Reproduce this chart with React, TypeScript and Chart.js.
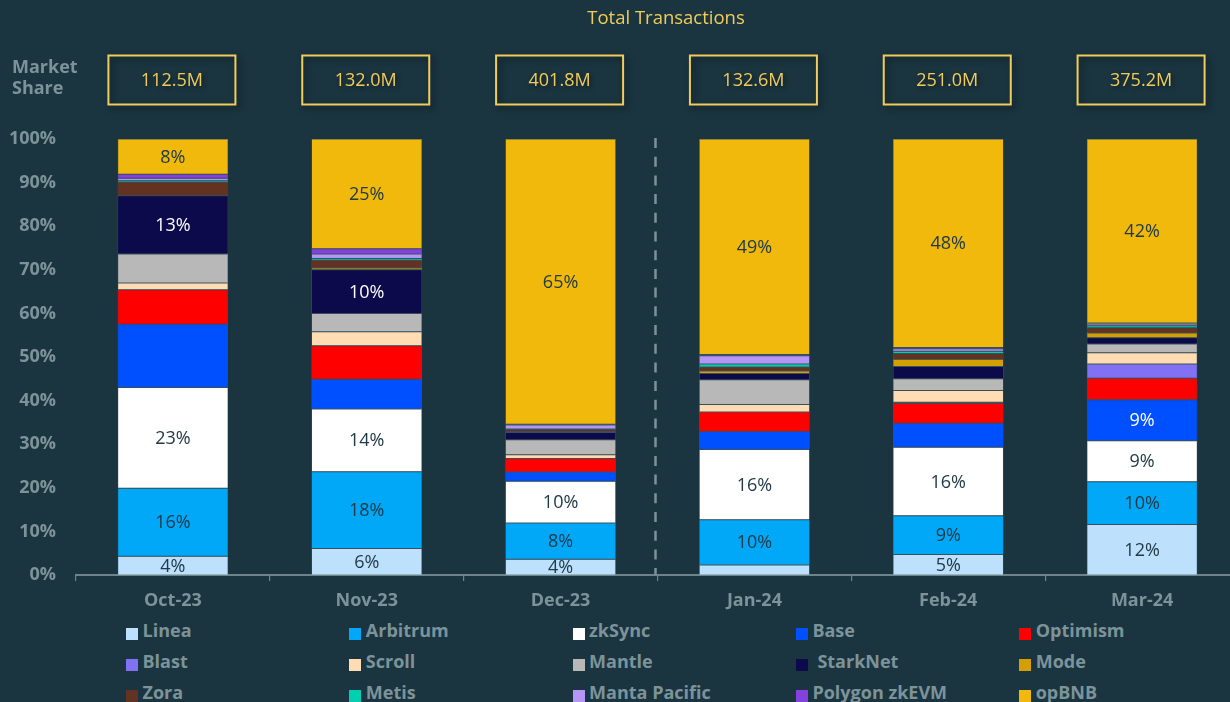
import React, { useEffect, useRef } from "react";
import { Chart, registerables } from "chart.js";

Chart.register(...registerables);

// ---------- data ----------
const months = ["Oct-23", "Nov-23", "Dec-23", "Jan-24", "Feb-24", "Mar-24"];
const totalTransactions = ["112.5M", "132.0M", "401.8M", "132.6M", "251.0M", "375.2M"];

const linea = [4.3, 6.1, 3.6, 2.3, 4.7, 11.6];
const arbitrum = [15.6, 17.6, 8.3, 10.4, 8.9, 9.8];
const zkSync = [23.1, 14.4, 9.6, 16.1, 15.7, 9.4];
const base = [14.5, 6.8, 2.1, 4.1, 5.5, 9.4];
const optimism = [7.9, 7.7, 3.1, 4.5, 4.6, 4.9];
const blast = [0, 0, 0, 0, 0.2, 3.3];
const scroll = [1.6, 3.2, 0.9, 1.7, 2.7, 2.6];
const mantle = [6.6, 4.2, 3.4, 5.7, 2.7, 2.0];
const starkNet = [13.4, 10.0, 1.7, 1.4, 2.8, 1.4];
const mode = [0, 0.4, 0.2, 0.6, 1.7, 1.1];
const zora = [3.1, 1.8, 0.5, 0.9, 1.3, 1.2];
const metis = [0.3, 0.4, 0.1, 0.7, 0.5, 0.45];
const mantaPacific = [0.6, 1.0, 0.9, 1.9, 0.6, 0.4];
const polygonZkEVM = [0.9, 1.2, 0.2, 0.3, 0.3, 0.25];
const opBNB = [8.1, 25.2, 65.4, 49.4, 47.8, 42.2];

const yTickValues = [0, 10, 20, 30, 40, 50, 60, 70, 80, 90, 100];

const seriesNames = [
  "Linea", "Arbitrum", "zkSync", "Base", "Optimism",
  "Blast", "Scroll", "Mantle", "StarkNet", "Mode",
  "Zora", "Metis", "Manta Pacific", "Polygon zkEVM", "opBNB",
];
const seriesValues = [
  linea, arbitrum, zkSync, base, optimism,
  blast, scroll, mantle, starkNet, mode,
  zora, metis, mantaPacific, polygonZkEVM, opBNB,
];
const seriesColors = [
  "#bde0fd", "#02a8f8", "#ffffff", "#0050ff", "#ff0000",
  "#8072f2", "#ffdcb3", "#b8b8b8", "#0c0a4b", "#d49f00",
  "#633221", "#00d0b2", "#b595f6", "#8540e0", "#f0b90b",
];
// which month indices carry a value label, per series
const labelledIndices: Record<string, number[]> = {
  Linea: [0, 1, 2, 4, 5],
  Arbitrum: [0, 1, 2, 3, 4, 5],
  zkSync: [0, 1, 2, 3, 4, 5],
  Base: [5],
  StarkNet: [0, 1],
  opBNB: [0, 1, 2, 3, 4, 5],
};
const whiteLabelSeries = ["Base", "StarkNet"];

// ---------- style ----------
const BG = "#1a3540";
const GREY = "#7d939a";
const YELLOW = "#f2cc5a";
const FONT = "'Open Sans', 'Noto Sans', sans-serif";

const valueLabelsPlugin = {
  id: "valueLabels",
  afterDatasetsDraw(chart: any) {
    const ctx = chart.ctx;
    ctx.save();
    ctx.font = `18px ${FONT}`;
    ctx.textAlign = "center";
    ctx.textBaseline = "middle";
    chart.data.datasets.forEach((ds: any, di: number) => {
      const idxs = labelledIndices[ds.label];
      if (!idxs) return;
      const meta = chart.getDatasetMeta(di);
      idxs.forEach((i) => {
        const el = meta.data[i];
        if (!el) return;
        const { x, y, base } = el.getProps(["x", "y", "base"], true);
        ctx.fillStyle = whiteLabelSeries.includes(ds.label) ? "#ffffff" : "#213a46";
        ctx.fillText(Math.round(ds.data[i]) + "%", x, (y + base) / 2 + 1);
      });
    });
    ctx.restore();
  },
};

const headerPlugin = {
  id: "headerBoxes",
  afterDraw(chart: any) {
    const ctx = chart.ctx;
    const xs = chart.scales.x;
    ctx.save();
    totalTransactions.forEach((t, i) => {
      const cx = xs.getPixelForValue(i) - 1;
      const w = 127;
      const h = 49;
      const top = 55.5;
      ctx.save();
      ctx.shadowColor = "rgba(0,0,0,0.55)";
      ctx.shadowBlur = 6;
      ctx.shadowOffsetX = 3;
      ctx.shadowOffsetY = 3;
      ctx.strokeStyle = YELLOW;
      ctx.lineWidth = 2;
      ctx.strokeRect(cx - w / 2, top, w, h);
      ctx.restore();
      ctx.save();
      ctx.shadowColor = "rgba(0,0,0,0.5)";
      ctx.shadowBlur = 4;
      ctx.shadowOffsetX = 2;
      ctx.shadowOffsetY = 2;
      ctx.fillStyle = YELLOW;
      ctx.font = `18px ${FONT}`;
      ctx.textAlign = "center";
      ctx.textBaseline = "middle";
      ctx.fillText(t, cx, top + h / 2 + 1);
      ctx.restore();
    });
    // dashed separator between 2023 and 2024
    const sepX = (xs.getPixelForValue(2) + xs.getPixelForValue(3)) / 2 - 2;
    const area = chart.chartArea;
    ctx.strokeStyle = "#7d9197";
    ctx.lineWidth = 2.5;
    ctx.setLineDash([10, 8.7]);
    ctx.beginPath();
    ctx.moveTo(sepX, area.top - 1);
    ctx.lineTo(sepX, area.bottom);
    ctx.stroke();
    ctx.restore();
  },
};

export default function App() {
  const canvasRef = useRef<HTMLCanvasElement | null>(null);

  useEffect(() => {
    if (!canvasRef.current) return;
    const chart = new Chart(canvasRef.current, {
      type: "bar",
      data: {
        labels: months,
        datasets: seriesNames.map((name, i) => ({
          label: name,
          data: seriesValues[i],
          backgroundColor: seriesColors[i],
          borderColor: "rgba(120,140,150,0.7)",
          borderWidth: 0.5,
          borderSkipped: false,
          barPercentage: 0.57,
          categoryPercentage: 1,
        })),
      },
      options: {
        responsive: false,
        animation: false,
        devicePixelRatio: 1,
        layout: { padding: { top: 139, right: 3, left: 0, bottom: 0 } },
        plugins: {
          legend: { display: false },
          tooltip: { enabled: false },
          title: { display: false },
        },
        scales: {
          x: {
            stacked: true,
            offset: true,
            border: { display: true, color: "#6e848b", width: 2 },
            grid: {
              display: true,
              drawOnChartArea: false,
              drawTicks: true,
              tickLength: 6,
              color: "#6e848b",
              lineWidth: 1.2,
              offset: true,
            },
            ticks: {
              color: GREY,
              font: { family: FONT, size: 18, weight: "bold" },
              padding: 9,
            },
            afterFit: (s: any) => {
              s.height = 37;
            },
          },
          y: {
            stacked: true,
            min: 0,
            max: 100,
            afterBuildTicks: (s: any) => {
              s.ticks = yTickValues.map((v) => ({ value: v }));
            },
            ticks: {
              color: GREY,
              font: { family: FONT, size: 18, weight: "bold" },
              padding: 20,
              callback: (v: any) => v + "%",
            },
            grid: { display: false, drawTicks: false },
            border: { display: false },
            afterFit: (s: any) => {
              s.width = 76;
            },
          },
        },
      },
      plugins: [valueLabelsPlugin, headerPlugin],
    });
    return () => chart.destroy();
  }, []);

  const legendCol = (i: number) => 126 + (i % 5) * 223.3;
  const legendRow = (i: number) => 628.3 + Math.floor(i / 5) * 31;

  return (
    <div
      style={{
        position: "fixed",
        left: 0,
        top: 0,
        width: 1230,
        height: 702,
        background: BG,
        overflow: "hidden",
        fontFamily: FONT,
      }}
    >
      <canvas
        ref={canvasRef}
        width={1242}
        height={612}
        style={{ position: "absolute", left: 0, top: 0, width: 1242, height: 612, display: "block" }}
      />
      <div
        style={{
          position: "absolute",
          left: 566,
          width: 200,
          top: 5,
          lineHeight: "24px",
          fontSize: 18.5,
          color: YELLOW,
          textAlign: "center",
          whiteSpace: "nowrap",
        }}
      >
        Total Transactions
      </div>
      <div
        style={{
          position: "absolute",
          left: 12,
          top: 56,
          lineHeight: "21px",
          fontSize: 18,
          fontWeight: 700,
          color: GREY,
        }}
      >
        Market
        <br />
        Share
      </div>
      {seriesNames.map((name, i) => (
        <React.Fragment key={name}>
          <div
            style={{
              position: "absolute",
              left: legendCol(i),
              top: legendRow(i),
              width: 12,
              height: 12,
              background: seriesColors[i],
            }}
          />
          <div
            style={{
              position: "absolute",
              left: legendCol(i) + 16.5 + (name === "StarkNet" ? 5 : 0),
              top: legendRow(i) - 10,
              lineHeight: "24px",
              fontSize: 18,
              fontWeight: 700,
              color: GREY,
              whiteSpace: "nowrap",
            }}
          >
            {name}
          </div>
        </React.Fragment>
      ))}
    </div>
  );
}
